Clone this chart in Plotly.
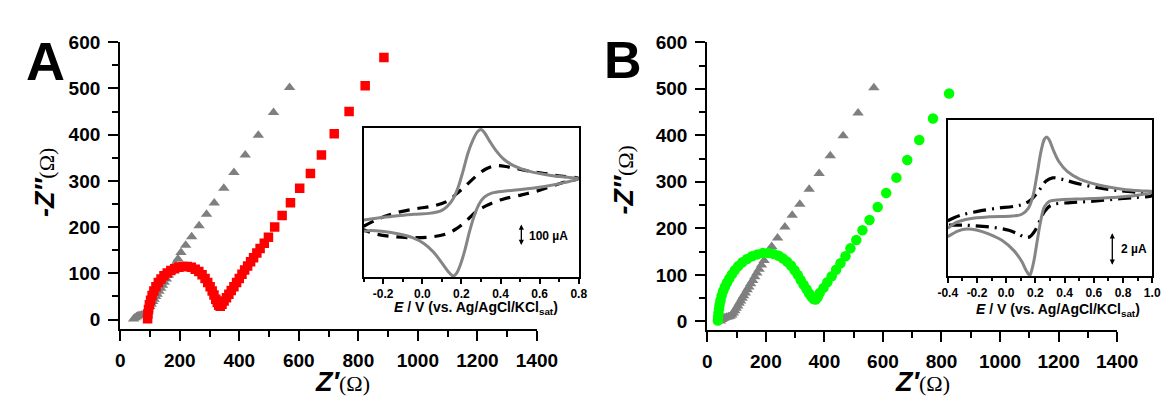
import plotly.graph_objects as go

# ---------------- data ----------------
# Panel A / B shared gray triangles (bare electrode)
tri_x = [45, 50, 55, 60, 66, 72, 78, 84, 89, 94, 99, 104, 109, 114, 119, 124, 130, 136, 142, 148,
         155, 162, 169, 177, 185, 194, 204, 220, 240, 265, 290, 316, 348, 382, 420, 464, 515, 569]
tri_y = [1, 4, 6, 8, 9, 10, 11, 14, 18, 23, 28, 33, 39, 44, 50, 55, 61, 68, 74, 81,
         88, 96, 104, 112, 121, 131, 145, 161, 179, 203, 228, 252, 284, 318, 356, 399, 448, 502]

# Panel A red squares
red_x = [92, 93, 95, 98, 102, 107, 113, 120, 128, 137, 147, 158, 170, 183, 197, 211, 225, 239, 252, 264,
         275, 285, 294, 302, 309, 315, 321, 326, 331, 336, 342, 349, 357, 365, 373, 382, 391, 400, 409, 418,
         428, 438, 448, 459, 470, 484, 498, 519, 544, 572, 603, 639, 676, 719, 769, 823, 886]
red_y = [2, 12, 22, 32, 42, 52, 62, 71, 80, 88, 95, 101, 106, 110, 113, 115, 115, 113, 109, 104,
         97, 89, 80, 71, 62, 53, 44, 37, 31, 29, 33, 40, 47, 55, 63, 71, 80, 89, 98, 107,
         116, 125, 134, 144, 154, 165, 178, 200, 225, 253, 284, 316, 356, 402, 450, 506, 567]

# Panel B green circles
grn_x = [36, 37, 38, 40, 42, 45, 49, 54, 60, 67, 75, 84, 94, 106, 120, 136, 153, 171, 190, 209,
         227, 244, 259, 273, 286, 298, 309, 319, 329, 339, 348, 356, 363, 370, 377, 384, 397, 410, 425, 440,
         455, 472, 489, 509, 530, 554, 582, 611, 646, 683, 724, 771, 826]
grn_y = [2, 10, 18, 27, 36, 45, 55, 65, 74, 83, 92, 101, 110, 119, 127, 134, 140, 144, 147, 147,
         145, 141, 135, 128, 120, 110, 100, 89, 79, 69, 60, 53, 48, 47, 52, 61, 72, 84, 97, 111,
         125, 140, 157, 175, 196, 218, 246, 276, 309, 347, 390, 436, 490]

# Inset A: CV (potential V, current uA)
cvA_gray_E = [-0.300, -0.208, -0.125, -0.042, 0.042, 0.092, 0.125, 0.158, 0.183, 0.208, 0.233, 0.258, 0.283,
              0.300, 0.317, 0.342, 0.375, 0.417, 0.475, 0.558, 0.658, 0.742, 0.800,
              0.725, 0.625, 0.525, 0.425, 0.358, 0.317, 0.292, 0.267, 0.242, 0.217, 0.192, 0.175, 0.158,
              0.133, 0.100, 0.058, 0.008, -0.050, -0.125, -0.208, -0.275, -0.300]
cvA_gray_I = [-92, -80, -70, -63, -57, -47, -25, 17, 75, 158, 250, 317, 363,
              373, 358, 317, 267, 220, 183, 155, 137, 127, 120,
              100, 80, 67, 57, 47, 25, -8, -67, -150, -250, -330, -367, -380,
              -358, -313, -258, -213, -183, -163, -150, -147, -150]
cvA_dash_E = [-0.300, -0.225, -0.125, -0.025, 0.058, 0.125, 0.175, 0.225, 0.275, 0.325, 0.375, 0.442, 0.525,
              0.625, 0.708, 0.800,
              0.708, 0.608, 0.508, 0.408, 0.325, 0.275, 0.225, 0.175, 0.125, 0.042, -0.058, -0.158, -0.242, -0.300]
cvA_dash_I = [-125, -87, -53, -33, -20, 3, 42, 87, 133, 170, 187, 180, 163,
              147, 133, 122,
              97, 63, 37, 13, -20, -50, -97, -137, -163, -180, -183, -177, -163, -142]

# Inset B: CV (potential V, current uA)
cvB_gray_E = [-0.400, -0.338, -0.249, -0.116, 0.040, 0.107, 0.151, 0.184, 0.213, 0.240, 0.262, 0.278, 0.296,
              0.324, 0.362, 0.418, 0.507, 0.640, 0.796, 0.929, 1.000,
              1.000, 0.884, 0.729, 0.551, 0.373, 0.296, 0.262, 0.236, 0.213, 0.191, 0.173, 0.162, 0.140,
              0.107, 0.051, -0.027, -0.116, -0.204, -0.271, -0.327, -0.400]
cvB_gray_I = [-1.09, -0.69, -0.46, -0.34, -0.29, -0.17, 0.21, 1.05, 2.53, 4.00, 4.74, 4.88, 4.67,
              4.00, 3.26, 2.63, 2.11, 1.73, 1.47, 1.35, 1.31,
              1.26, 1.05, 0.93, 0.84, 0.78, 0.67, 0.32, -0.63, -1.89, -3.16, -3.89, -4.15, -3.89,
              -3.26, -2.53, -1.89, -1.47, -1.20, -1.14, -1.26, -1.64]
cvB_dd_E = [-0.400, -0.316, -0.204, -0.071, 0.062, 0.129, 0.173, 0.207, 0.240, 0.273, 0.318, 0.384, 0.484,
            0.618, 0.773, 0.907, 1.000,
            1.000, 0.884, 0.729, 0.573, 0.440, 0.307, 0.262, 0.229, 0.196, 0.162, 0.129, 0.084, 0.018,
            -0.071, -0.182, -0.293, -0.400]
cvB_dd_I = [-0.59, -0.25, 0.00, 0.21, 0.36, 0.53, 0.80, 1.16, 1.58, 2.00, 2.21, 2.11, 1.85,
            1.58, 1.37, 1.26, 1.20,
            1.05, 0.93, 0.80, 0.67, 0.59, 0.42, 0.00, -0.63, -1.26, -1.64, -1.68, -1.47, -1.22,
            -1.05, -0.95, -0.88, -0.88]

main_xticks = [0, 200, 400, 600, 800, 1000, 1200, 1400]
main_yticks = [0, 100, 200, 300, 400, 500, 600]
insetA_ticks = [-0.2, 0.0, 0.2, 0.4, 0.6, 0.8]
insetB_ticks = [-0.4, -0.2, 0.0, 0.2, 0.4, 0.6, 0.8, 1.0]

# ---------------- layout helpers ----------------
W, H = 1173, 396
def px(x):
    return x / W
def py(y):
    return 1 - y / H

FONT = "Liberation Sans"
GRAY = "#858585"

fig = go.Figure()

# Main A
fig.add_trace(go.Scatter(x=tri_x, y=tri_y, mode="markers", xaxis="x", yaxis="y",
                         marker=dict(symbol="triangle-up", size=10, color="#7f7f7f"), showlegend=False))
fig.add_trace(go.Scatter(x=red_x, y=red_y, mode="markers", xaxis="x", yaxis="y",
                         marker=dict(symbol="square", size=9.5, color="#ff0000"), showlegend=False))
# Main B
fig.add_trace(go.Scatter(x=tri_x, y=tri_y, mode="markers", xaxis="x3", yaxis="y3",
                         marker=dict(symbol="triangle-up", size=10, color="#7f7f7f"), showlegend=False))
fig.add_trace(go.Scatter(x=grn_x, y=grn_y, mode="markers", xaxis="x3", yaxis="y3",
                         marker=dict(symbol="circle", size=10.5, color="#00ff00"), showlegend=False))
# Inset A
fig.add_trace(go.Scatter(x=cvA_dash_E, y=cvA_dash_I, mode="lines", xaxis="x2", yaxis="y2",
                         line=dict(color="black", width=3.2, dash="11px,8px", shape="spline"), showlegend=False))
fig.add_trace(go.Scatter(x=cvA_gray_E, y=cvA_gray_I, mode="lines", xaxis="x2", yaxis="y2",
                         line=dict(color=GRAY, width=3, shape="spline"), showlegend=False))
# Inset B
fig.add_trace(go.Scatter(x=cvB_dd_E, y=cvB_dd_I, mode="lines", xaxis="x4", yaxis="y4",
                         line=dict(color="black", width=3.2, dash="13px,6px,2px,6px", shape="spline"), showlegend=False))
fig.add_trace(go.Scatter(x=cvB_gray_E, y=cvB_gray_I, mode="lines", xaxis="x4", yaxis="y4",
                         line=dict(color=GRAY, width=3, shape="spline"), showlegend=False))

main_tickfont = dict(family=FONT, size=19, color="black", weight="bold")
inset_tickfont = dict(family=FONT, size=12, color="black", weight="bold")

def main_x(domain, anchor):
    return dict(domain=domain, anchor=anchor, range=[0, 1400], tickvals=main_xticks,
                showline=True, linewidth=2.2, linecolor="black", ticks="outside", ticklen=10, tickwidth=2.2,
                tickcolor="black", showgrid=False, zeroline=False, tickfont=main_tickfont, ticklabelstandoff=3,
                minor=dict(dtick=100, ticklen=6, tickwidth=2.2, tickcolor="black", ticks="outside", showgrid=False))

def main_y(domain, anchor, rng):
    return dict(domain=domain, anchor=anchor, range=rng, tickvals=main_yticks,
                showline=True, linewidth=2.2, linecolor="black", ticks="outside", ticklen=10, tickwidth=2.2,
                tickcolor="black", showgrid=False, zeroline=False, tickfont=main_tickfont, ticklabelstandoff=4,
                minor=dict(dtick=50, tick0=0, ticklen=6, tickwidth=2.2, tickcolor="black", ticks="outside", showgrid=False))

def inset_x(domain, anchor, rng, ticks):
    return dict(domain=domain, anchor=anchor, range=rng, tickvals=ticks, ticktext=["%.1f" % t for t in ticks],
                showline=True, linewidth=1.8, linecolor="black", mirror=True, ticks="outside", ticklen=5,
                tickwidth=1.5, tickcolor="black", showgrid=False, zeroline=False, tickfont=inset_tickfont,
                minor=dict(dtick=0.1, tick0=0, ticklen=3, tickwidth=1.5, tickcolor="black", ticks="outside", showgrid=False))

def inset_y(domain, anchor, rng):
    return dict(domain=domain, anchor=anchor, range=rng, showline=True, linewidth=1.8, linecolor="black",
                mirror=True, ticks="", showticklabels=False, showgrid=False, zeroline=False)

fig.update_layout(
    width=W, height=H, margin=dict(l=0, r=0, t=0, b=0),
    paper_bgcolor="white", plot_bgcolor="rgba(0,0,0,0)",
    xaxis=main_x([px(105), px(533)], "y"),
    yaxis=main_y([py(321), py(25)], "x", [-21, 600]),
    xaxis3=main_x([px(708), px(1129)], "y3"),
    yaxis3=main_y([py(322), py(25)], "x3", [-19, 600]),
    xaxis2=inset_x([px(355), px(576)], "y2", [-0.3, 0.8], insetA_ticks),
    yaxis2=inset_y([py(267), py(113)], "x2", [-385, 383]),
    xaxis4=inset_x([px(955), px(1165)], "y4", [-0.4, 1.0], insetB_ticks),
    yaxis4=inset_y([py(266), py(105)], "x4", [-4.2, 6.0]),
)

ann = []
def add_text(x, y, text, font, angle=0, xanchor="center"):
    ann.append(dict(x=px(x), y=py(y), xref="paper", yref="paper", text=text, showarrow=False,
                    xanchor=xanchor, yanchor="middle", textangle=angle, font=font))

# Panel letters
add_text(28, 44, "A", dict(family=FONT, size=54, color="black", weight="bold"))
add_text(621, 43, "B", dict(family=FONT, size=52, color="black", weight="bold"))

serif = "font-family:Liberation Serif;font-size:22px;font-weight:normal"
ytitle = "<b><i>-Z″</i></b><span style='%s'>(Ω)</span>" % serif
xtitle = "<b><i>Z′</i></b><span style='%s'>(Ω)</span>" % serif
for (xx, yy) in [(28, 170), (622, 167)]:
    add_text(xx, yy, ytitle, dict(family=FONT, size=27, color="black"), angle=-90)
for (xx, yy) in [(333, 375), (929, 375)]:
    add_text(xx, yy, xtitle, dict(family=FONT, size=27, color="black"))

etitle = "<i>E</i> / V (vs. Ag/AgCl/KCl<sub>sat</sub>)"
for (xx, yy) in [(470, 299), (1068, 301)]:
    add_text(xx, yy, etitle, dict(family=FONT, size=14, color="black", weight="bold"))

# scale bars
for (xx, y1, y2, label, tx, ty) in [(517, 213, 235, "100 µA", 523, 225), (1124, 222, 255, "2 µA", 1131, 238)]:
    ann.append(dict(x=px(xx), y=py(y1), ax=0, ay=(y2 - y1), xref="paper", yref="paper",
                    axref="pixel", ayref="pixel", text="", showarrow=True, arrowside="end+start",
                    arrowhead=2, arrowsize=0.8, arrowwidth=1.3, arrowcolor="black", standoff=0, startstandoff=0))
    add_text(tx, ty, label, dict(family=FONT, size=12, color="black", weight="bold"), xanchor="left")

fig.update_layout(annotations=ann)
fig.write_html("out.html")
